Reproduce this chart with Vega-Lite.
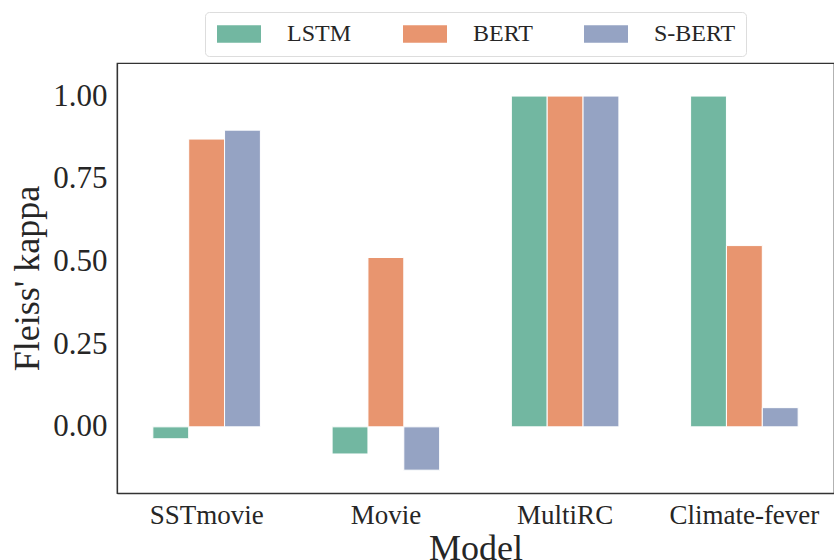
{
  "$schema": "https://vega.github.io/schema/vega-lite/v6.json",
  "autosize": {"type": "none"},
  "padding": {"left": 117, "top": 63, "right": 0, "bottom": 67},
  "width": 717,
  "height": 430,
  "background": "white",
  "config": {
    "font": "Liberation Serif",
    "view": {"stroke": "#333333", "strokeWidth": 1.25},
    "axis": {"grid": false, "ticks": false, "domainColor": "#333333", "domainWidth": 1.25, "labelColor": "#262626", "titleColor": "#262626", "titleFontWeight": "normal"}
  },
  "data": {
    "values": [
      {"Model": "SSTmovie", "Method": "LSTM", "kappa": -0.036},
      {"Model": "SSTmovie", "Method": "BERT", "kappa": 0.870},
      {"Model": "SSTmovie", "Method": "S-BERT", "kappa": 0.897},
      {"Model": "Movie", "Method": "LSTM", "kappa": -0.082},
      {"Model": "Movie", "Method": "BERT", "kappa": 0.512},
      {"Model": "Movie", "Method": "S-BERT", "kappa": -0.131},
      {"Model": "MultiRC", "Method": "LSTM", "kappa": 1.0},
      {"Model": "MultiRC", "Method": "BERT", "kappa": 1.0},
      {"Model": "MultiRC", "Method": "S-BERT", "kappa": 1.0},
      {"Model": "Climate-fever", "Method": "LSTM", "kappa": 1.0},
      {"Model": "Climate-fever", "Method": "BERT", "kappa": 0.548},
      {"Model": "Climate-fever", "Method": "S-BERT", "kappa": 0.058}
    ]
  },
  "mark": {"type": "bar", "stroke": "white", "strokeWidth": 1},
  "encoding": {
    "x": {
      "field": "Model", "type": "nominal",
      "sort": ["SSTmovie", "Movie", "MultiRC", "Climate-fever"],
      "scale": {"paddingInner": 0.4, "paddingOuter": 0.2},
      "axis": {"labelAngle": 0, "labelFontSize": 27, "labelPadding": 9, "title": "Model", "titleFontSize": 36, "titlePadding": 3}
    },
    "xOffset": {
      "field": "Method", "type": "nominal",
      "sort": ["LSTM", "BERT", "S-BERT"],
      "scale": {"paddingInner": 0, "paddingOuter": 0}
    },
    "y": {
      "field": "kappa", "type": "quantitative",
      "scale": {"domain": [-0.2, 1.1], "nice": false, "zero": true},
      "axis": {"values": [0, 0.25, 0.5, 0.75, 1.0], "format": ".2f", "labelFontSize": 31, "labelPadding": 10, "title": "Fleiss' kappa", "titleFontSize": 36, "titlePadding": 6}
    },
    "color": {
      "field": "Method", "type": "nominal",
      "sort": ["LSTM", "BERT", "S-BERT"],
      "scale": {"domain": ["LSTM", "BERT", "S-BERT"], "range": ["#72b7a1", "#e8956f", "#95a3c3"]},
      "legend": {
        "title": null,
        "orient": "none",
        "direction": "horizontal",
        "legendX": 88,
        "legendY": -51,
        "symbolType": "M-1,-0.88H3.4V0.88H-1Z",
        "symbolSize": 400,
        "symbolStrokeWidth": 0,
        "symbolOpacity": 1,
        "labelFontSize": 24,
        "labelColor": "#262626",
        "labelOffset": 48,
        "columnPadding": 49,
        "padding": 10,
        "strokeColor": "#dddddd",
        "fillColor": "white",
        "cornerRadius": 4
      }
    }
  }
}
